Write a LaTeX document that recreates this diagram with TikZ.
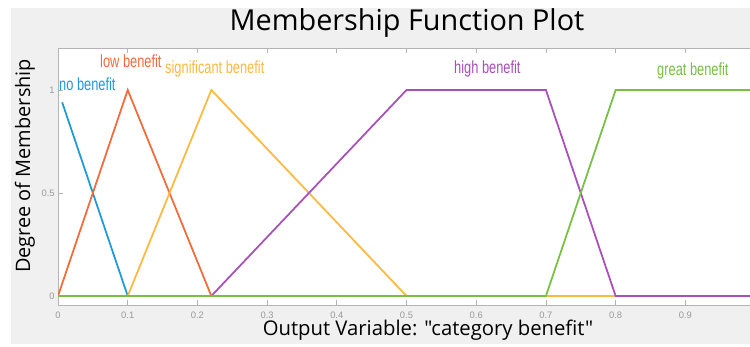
\documentclass[tikz,border=0pt]{standalone}
\usepackage{fontspec}
\setmainfont{Open Sans}[Ligatures = TeXOff]
\newfontfamily\narrowfont{Liberation Sans}
\definecolor{figgray}{HTML}{F0F0F0}
\definecolor{axisgray}{HTML}{B4B4B4}
\definecolor{tickgray}{HTML}{9A9A9A}
\definecolor{nocol}{HTML}{1E9BD7}
\definecolor{lowcol}{HTML}{F26B3A}
\definecolor{sigcol}{HTML}{FDB940}
\definecolor{highcol}{HTML}{A84FB8}
\definecolor{greatcol}{HTML}{77C043}
\tikzset{
  mf/.style = {line width = 1.5pt, line join = miter},
  mflabel/.style = {font = \narrowfont\fontsize{15}{17}\selectfont, inner sep = 0pt},
  ticklabel/.style = {font = \narrowfont\fontsize{8}{9}\selectfont, text = tickgray, inner sep = 1pt}
}
\newcommand{\narrow}[1]{\scalebox{0.73}[1]{#1}}
\begin{document}
\begin{tikzpicture}[x = 0.03cm, y = -0.03cm]
    \useasboundingbox (0, 0) rectangle (750, 347);
    \fill [figgray] (11, 8) rectangle (750, 344);
    \fill [white] (58, 48) rectangle (750, 305);
    \draw [axisgray, line width = 0.6pt] (750, 48) -- (58, 48) -- (58, 305) -- (750, 305);
    % x ticks
    \foreach \i/\t in {0/0, 1/0.1, 2/0.2, 3/0.3, 4/0.4, 5/0.5, 6/0.6, 7/0.7, 8/0.8, 9/0.9} {
        \draw [axisgray, line width = 0.6pt] (58 + 69.7 * \i, 305) -- ++(0, -5);
        \draw [axisgray, line width = 0.6pt] (58 + 69.7 * \i, 48) -- ++(0, 5);
        \node [ticklabel] (xt\i) at (58 + 69.7 * \i, 315) {\t};
    }
    % y ticks
    \foreach \j/\t/\y in {0/0/296, 1/0.5/193, 2/1/90} {
        \draw [axisgray, line width = 0.6pt] (58, \y) -- ++(5, 0);
        \node [ticklabel, anchor = east] (yt\j) at (56, \y) {\t};
    }
    % membership functions
    \begin{scope}[shift = {(58, 296)}, x = 20.91cm, y = 6.18cm]
        \clip (0, -0.05) rectangle (0.993, 1.2);
        \draw [mf, nocol] (0.006, 0.94) -- (0.1, 0) -- (1, 0);
        \draw [mf, lowcol] (0, 0) -- (0.1, 1) -- (0.22, 0) -- (1, 0);
        \draw [mf, sigcol] (0, 0) -- (0.1, 0) -- (0.22, 1) -- (0.5, 0) -- (1, 0);
        \draw [mf, highcol] (0, 0) -- (0.22, 0) -- (0.5, 1) -- (0.7, 1) -- (0.8, 0) -- (1, 0);
        \draw [mf, greatcol] (0, 0) -- (0.7, 0) -- (0.8, 1) -- (1, 1);
    \end{scope}
    % labels
    \node [mflabel, text = nocol, anchor = base west] (nolab) at (59, 91) {\narrow{no benefit}};
    \node [mflabel, text = lowcol, anchor = base west] (lowlab) at (100, 68) {\narrow{low benefit}};
    \node [mflabel, text = sigcol, anchor = base west] (siglab) at (165, 74) {\narrow{significant benefit}};
    \node [mflabel, text = highcol, anchor = base west] (highlab) at (454, 74) {\narrow{high benefit}};
    \node [mflabel, text = greatcol, anchor = base west] (greatlab) at (657, 76) {\narrow{great benefit}};
    \node [font = \fontsize{24.6}{28}\selectfont] (title) at (407, 23) {Membership Function Plot};
    \node [font = \fontsize{17.3}{20}\selectfont] (xlab) at (428, 330) {Output Variable: "category benefit"};
    \node [font = \fontsize{17}{20}\selectfont, rotate = 90] (ylab) at (25, 166) {Degree of Membership};
\end{tikzpicture}
\end{document}
